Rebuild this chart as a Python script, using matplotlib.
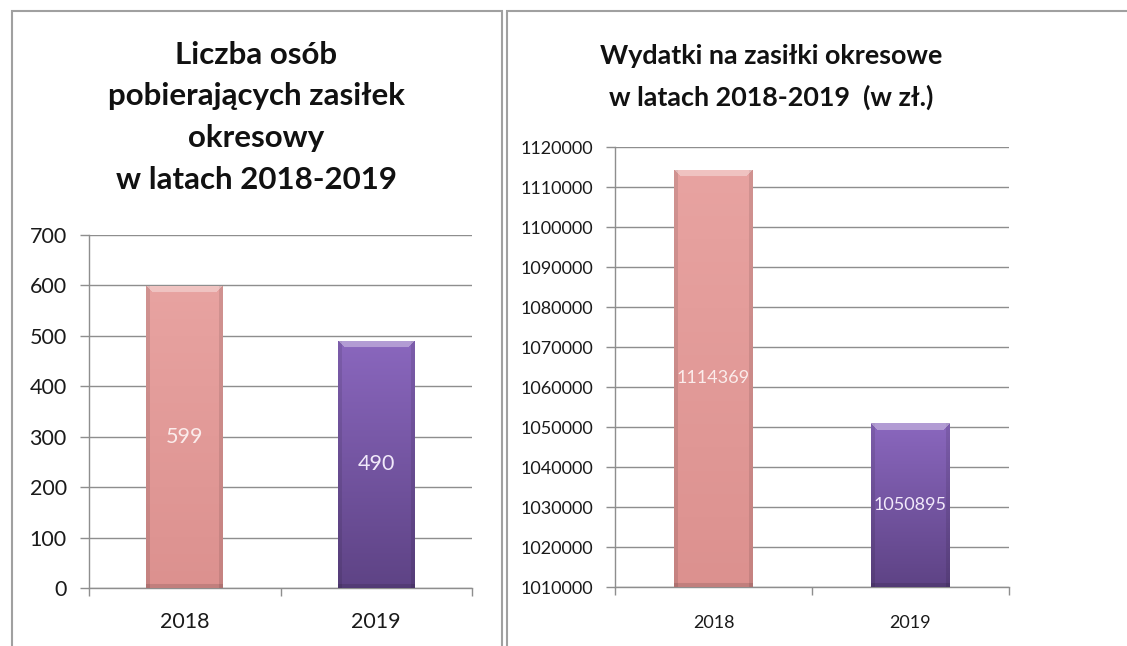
import numpy as np
import matplotlib.pyplot as plt
from matplotlib.patches import Rectangle
from matplotlib.colors import to_rgb

# data
years = ['2018', '2019']
persons = [599, 490]
spending = [1114369, 1050895]

persons_ticks = [0, 100, 200, 300, 400, 500, 600, 700]
spending_ticks = [1010000, 1020000, 1030000, 1040000, 1050000,
                  1060000, 1070000, 1080000, 1090000, 1100000,
                  1110000, 1120000]

title_left = 'Liczba osób\npobierających zasiłek\nokresowy\nw latach 2018-2019'
title_right = 'Wydatki na zasiłki okresowe\nw latach 2018-2019  (w zł.)'

# bar colours: (top, bottom)
bar_colors = [('#e8a3a1', '#dc918f'), ('#8a67be', '#5e4385')]
label_colors = ['#fbeceb', '#f1e9fa']

GRID = '#8e8e8e'
TEXT = '#1a1a1a'
plt.rcParams['font.family'] = ['Lato', 'DejaVu Sans']

fig = plt.figure(figsize=(11.27, 6.46), dpi=100)
fig.patch.set_facecolor('white')

# panel frames
W, H = 1127, 646
for x0, x1 in [(12, 502), (507, 1135)]:
    fig.patches.append(Rectangle((x0 / W, -0.05), (x1 - x0) / W, (H - 11) / H + 0.05,
                                 transform=fig.transFigure, fill=False,
                                 edgecolor='#a0a0a0', lw=1.5))


def shaded_bar(ax, xc, value, base, width, cols):
    # invisible bar used as clip path, image gives the bevelled look
    bar = ax.bar(xc, value - base, width, bottom=base, color='none',
                 edgecolor='none', zorder=3)[0]
    p0 = ax.transData.transform((xc - width / 2, base))
    p1 = ax.transData.transform((xc + width / 2, value))
    pw = max(int(round(p1[0] - p0[0])), 10)
    ph = max(int(round(p1[1] - p0[1])), 10)
    top, bot = np.array(to_rgb(cols[0])), np.array(to_rgb(cols[1]))
    t = np.linspace(0, 1, ph)[:, None, None]
    img = (top * (1 - t) + bot * t) * np.ones((1, pw, 1))
    rows = np.arange(ph)[:, None]
    colsx = np.arange(pw)[None, :]
    side = np.minimum(colsx, pw - 1 - colsx)
    # darker sides
    img[np.broadcast_to(side < 4, (ph, pw))] *= 0.9
    # lighter top bevel
    bev = (rows < 7) & (side >= rows)
    img[bev] = img[bev] * 0.65 + 0.35
    # darker bottom edge
    img[-4:, :, :] *= 0.88
    im = ax.imshow(np.clip(img, 0, 1), extent=[xc - width / 2, xc + width / 2, base, value],
                   aspect='auto', zorder=3, interpolation='bilinear')
    im.set_clip_path(bar)


def style_axes(ax, ticks, fs, xpad):
    ax.set_xlim(-0.5, 1.5)
    ax.set_ylim(ticks[0], ticks[-1])
    ax.set_yticks(ticks)
    ax.set_yticklabels([str(t) for t in ticks])
    ax.set_xticks([0, 1])
    ax.set_xticklabels(years)
    ax.set_xticks([-0.5, 0.5, 1.5], minor=True)
    ax.yaxis.grid(True, color=GRID, lw=1)
    ax.set_axisbelow(True)
    for s in ['top', 'right']:
        ax.spines[s].set_visible(False)
    for s in ['left', 'bottom']:
        ax.spines[s].set_color(GRID)
        ax.spines[s].set_linewidth(1)
    ax.tick_params(axis='y', length=6.5, width=1, color=GRID, pad=9.5,
                   labelsize=fs, labelcolor=TEXT)
    ax.tick_params(axis='x', which='major', length=0, pad=xpad,
                   labelsize=fs, labelcolor=TEXT)
    ax.tick_params(axis='x', which='minor', length=6, width=1, color=GRID)


def draw_panel(ax, values, ticks, fs, xpad):
    style_axes(ax, ticks, fs, xpad)
    base = ticks[0]
    for i, v in enumerate(values):
        shaded_bar(ax, i, v, base, 0.4, bar_colors[i])
        ax.text(i, (base + v) / 2, str(v), ha='center', va='center',
                fontsize=fs, color=label_colors[i], zorder=4)
    style_axes(ax, ticks, fs, xpad)


ax1 = fig.add_axes([89 / W, (H - 588) / H, 383 / W, 353 / H])
ax2 = fig.add_axes([615 / W, (H - 587) / H, 394 / W, 440 / H])
draw_panel(ax1, persons, persons_ticks, 15.5, 17.5)
draw_panel(ax2, spending, spending_ticks, 13, 20)

fig.text(256 / W, (H - 40.5) / H, title_left, ha='center', va='top',
         multialignment='center', fontsize=22.5, fontweight='bold',
         color='#111111', linespacing=1.6)
fig.text(771 / W, (H - 43.5) / H, title_right, ha='center', va='top',
         multialignment='center', fontsize=19.4, fontweight='bold',
         color='#111111', linespacing=1.82)

fig.savefig('out.png', dpi=100, facecolor='white')
